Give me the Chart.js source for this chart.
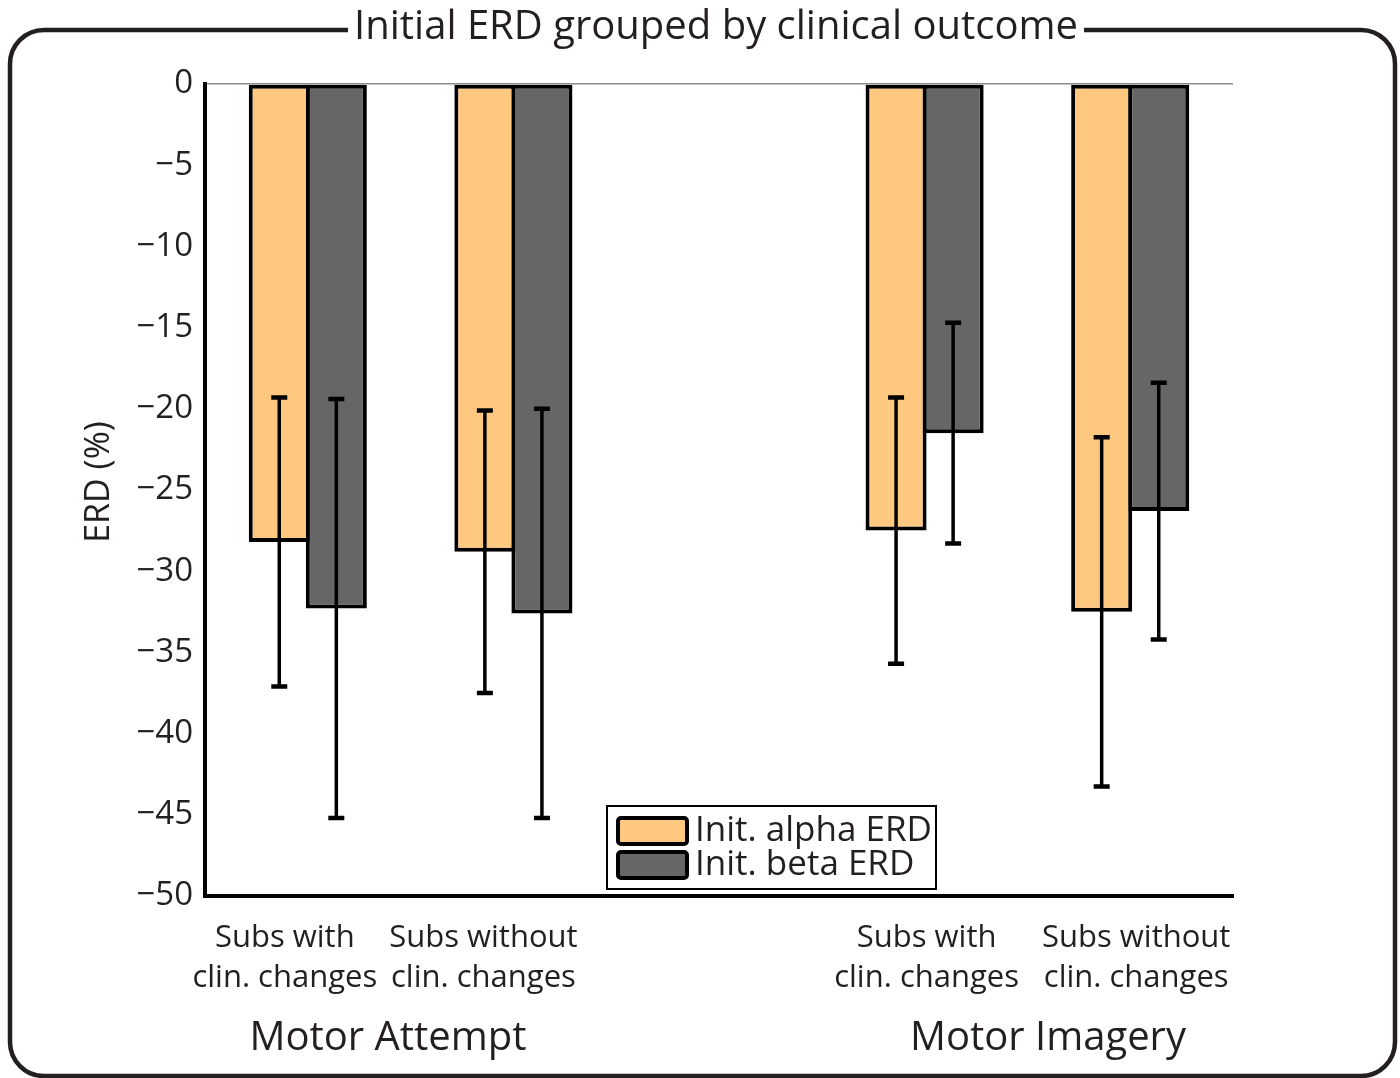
<!DOCTYPE html>
<html>
<head>
<meta charset="utf-8">
<script src="https://cdn.jsdelivr.net/npm/chart.js@4.4.1/dist/chart.umd.min.js"></script>
<style>
  html, body { margin: 0; padding: 0; background: #fff; }
  #wrap { width: 1400px; height: 1078px; }
</style>
</head>
<body>
<div id="wrap"><canvas id="erdChart" width="1400" height="1078"></canvas></div>
<script>
const chartTitle = "Initial ERD grouped by clinical outcome";
const yTitle = "ERD (%)";
// middle slot is an empty spacer between the two tasks
const categories = [
  ["Subs with", "clin. changes"],
  ["Subs without", "clin. changes"],
  "",
  ["Subs with", "clin. changes"],
  ["Subs without", "clin. changes"]
];
const groupLabels = ["Motor Attempt", "Motor Imagery"];
const groupPos = [0.39, 3.6]; // category index where each group label sits
const seriesNames = ["Init. alpha ERD", "Init. beta ERD"];
const alphaMean = [-28.2, -28.8, null, -27.5, -32.5];
const alphaErr = [8.9, 8.7, null, 8.2, 10.75];
const betaMean = [-32.3, -32.6, null, -21.5, -26.3];
const betaErr = [12.9, 12.6, null, 6.8, 7.9];
const yTicks = [0, -5, -10, -15, -20, -25, -30, -35, -40, -45, -50];

const ink = "#231f20";
const font = "'Open Sans', 'Noto Sans', sans-serif";
const alphaColor = "#ffc880";
const betaColor = "#666666";
// the original labels sit a little off the bar centres
const labelShift = [-23, -30, 0, 2, 6];

const errBars = {
  id: "errBars",
  afterDatasetsDraw(chart) {
    const ctx = chart.ctx;
    const y = chart.scales.y;
    const errs = [alphaErr, betaErr];
    chart.data.datasets.forEach((ds, i) => {
      const meta = chart.getDatasetMeta(i);
      meta.data.forEach((bar, j) => {
        const m = ds.data[j];
        if (m === null) return;
        const top = y.getPixelForValue(m + errs[i][j]);
        const bot = y.getPixelForValue(m - errs[i][j]);
        ctx.save();
        ctx.strokeStyle = "#000";
        ctx.lineWidth = 3.5;
        ctx.beginPath();
        ctx.moveTo(bar.x, top);
        ctx.lineTo(bar.x, bot);
        ctx.stroke();
        ctx.lineWidth = 4.5;
        ctx.beginPath();
        ctx.moveTo(bar.x - 8, top);
        ctx.lineTo(bar.x + 8, top);
        ctx.moveTo(bar.x - 8, bot);
        ctx.lineTo(bar.x + 8, bot);
        ctx.stroke();
        ctx.restore();
      });
    });
  }
};

const decor = {
  id: "decor",
  beforeDraw(chart) {
    const ctx = chart.ctx;
    ctx.save();
    ctx.fillStyle = "#fff";
    ctx.fillRect(0, 0, chart.width, chart.height);
    // rounded frame
    ctx.strokeStyle = ink;
    ctx.lineWidth = 4.5;
    ctx.beginPath();
    ctx.roundRect(10, 30, 1385, 1046, 34);
    ctx.stroke();
    // title breaking the frame
    ctx.font = "40px " + font;
    const tw = ctx.measureText(chartTitle).width;
    ctx.fillStyle = "#fff";
    ctx.fillRect(716 - tw / 2 - 6, 20, tw + 12, 20);
    ctx.fillStyle = ink;
    ctx.textAlign = "center";
    ctx.textBaseline = "middle";
    ctx.fillText(chartTitle, 716, 28);
    ctx.restore();
  },
  afterDraw(chart) {
    const ctx = chart.ctx;
    const x = chart.scales.x;
    ctx.save();
    ctx.fillStyle = ink;
    // y axis title
    ctx.font = "34px " + font;
    ctx.textAlign = "center";
    ctx.textBaseline = "middle";
    ctx.translate(99, 482);
    ctx.rotate(-Math.PI / 2);
    ctx.fillText(yTitle, 0, 0);
    ctx.restore();

    ctx.save();
    ctx.fillStyle = ink;
    ctx.textAlign = "center";
    ctx.textBaseline = "alphabetic";
    // category labels
    ctx.font = "31px " + font;
    categories.forEach((c, i) => {
      if (!Array.isArray(c)) return;
      const cx = x.getPixelForValue(i) + labelShift[i];
      c.forEach((line, k) => ctx.fillText(line, cx, 947 + k * 40));
    });
    ctx.font = "40px " + font;
    groupLabels.forEach((g, i) => {
      ctx.fillText(g, x.getPixelForValue(groupPos[i]), 1050);
    });

    // legend box
    ctx.strokeStyle = "#000";
    ctx.lineWidth = 2;
    ctx.fillStyle = "#fff";
    ctx.fillRect(607, 806, 329, 83);
    ctx.strokeRect(607, 806, 329, 83);
    const cols = [alphaColor, betaColor];
    seriesNames.forEach((s, i) => {
      const sy = 818 + i * 34;
      ctx.fillStyle = cols[i];
      ctx.lineWidth = 4;
      ctx.beginPath();
      ctx.roundRect(618, sy, 69, 26, 3);
      ctx.fill();
      ctx.stroke();
      ctx.fillStyle = ink;
      ctx.font = "35px " + font;
      ctx.textAlign = "left";
      ctx.textBaseline = "middle";
      ctx.fillText(s, 695, sy + 13);
    });
    ctx.restore();
  }
};

new Chart(document.getElementById("erdChart"), {
  type: "bar",
  data: {
    labels: categories,
    datasets: [
      { label: seriesNames[0], data: alphaMean, backgroundColor: alphaColor, borderColor: "#000", borderWidth: 4, borderSkipped: false },
      { label: seriesNames[1], data: betaMean, backgroundColor: betaColor, borderColor: "#000", borderWidth: 4, borderSkipped: false }
    ]
  },
  options: {
    responsive: false,
    animation: false,
    devicePixelRatio: 1,
    categoryPercentage: 0.555,
    barPercentage: 1.07,
    layout: { padding: { top: 84, right: 167, bottom: 0, left: 0 } },
    plugins: {
      legend: { display: false },
      tooltip: { enabled: false }
    },
    scales: {
      x: {
        grid: { display: false },
        border: { display: true, color: "#000", width: 4 },
        ticks: { display: false },
        afterFit(s) { s.height = 182; }
      },
      y: {
        min: -50,
        max: 0,
        afterBuildTicks(s) { s.ticks = yTicks.map(v => ({ value: v })); },
        grid: {
          drawTicks: false,
          color: c => (c.tick && c.tick.value === 0 ? "#8a8a8a" : "rgba(0,0,0,0)"),
          lineWidth: 1.5
        },
        border: { display: true, color: "#000", width: 4 },
        ticks: {
          color: ink,
          font: { family: font, size: 33 },
          padding: 12,
          callback: v => (v === 0 ? "0" : "\u2212" + Math.abs(v))
        },
        afterFit(s) { s.width = 205; }
      }
    }
  },
  plugins: [decor, errBars]
});
</script>
</body>
</html>
